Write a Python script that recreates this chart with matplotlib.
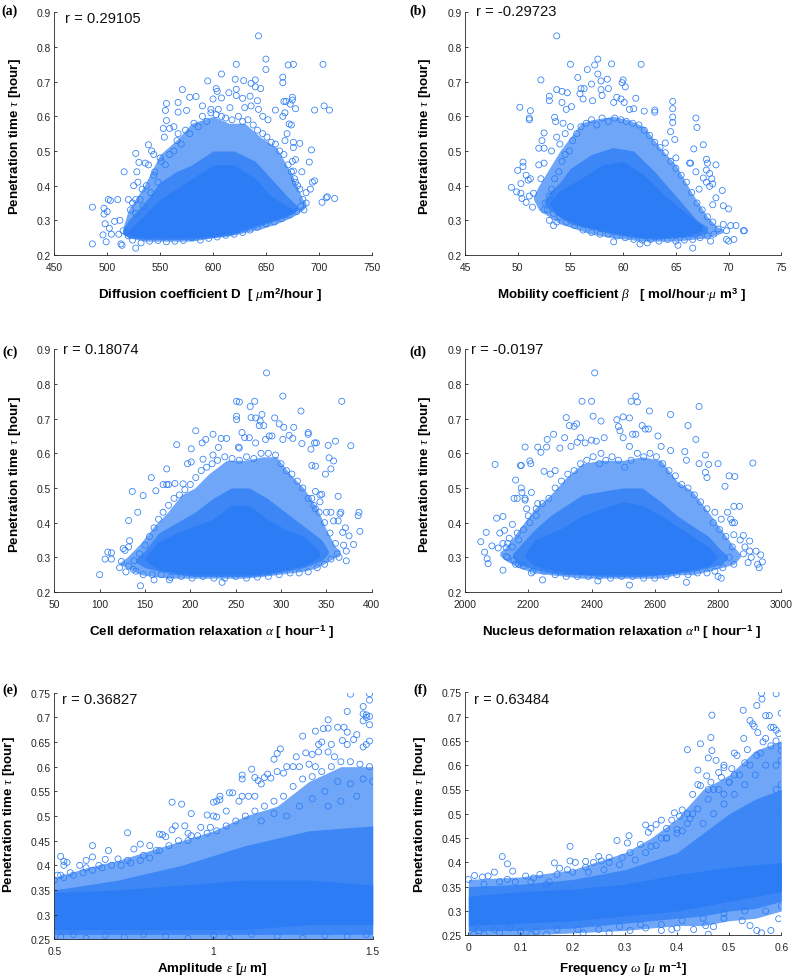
import matplotlib
matplotlib.use('Agg')
import matplotlib.pyplot as plt

plt.rcParams['font.family'] = ['Liberation Sans', 'DejaVu Sans']
plt.rcParams['mathtext.fontset'] = 'custom'
plt.rcParams['mathtext.rm'] = 'Liberation Sans:bold'
plt.rcParams['mathtext.bf'] = 'Liberation Sans:bold'
plt.rcParams['mathtext.it'] = 'Liberation Serif:italic'

# individually readable circles: (x, tau)
a_pts = [(643,.832),(650,.765),(622,.75),(650,.735),(671,.748),(676,.75),(704,.75),(608,.722),(629,.703),(621,.707),(595,.702),(640,.705),(636,.695),(640,.685),(645,.68),(666,.713),(666,.697),(571,.677),(603,.68),(604,.672),(622,.678),(615,.668),(578,.655),(584,.657),(600,.65),(608,.653),(622,.66),(628,.652),(635,.658),(642,.645),(667,.643),(669,.643),(675,.655),(675,.647),(673,.635),(678,.622),(696,.618),(705,.63),(710,.618),(659,.618),(643,.62),(556,.637),(567,.64),(555,.617),(567,.612),(575,.617),(590,.63),(598,.62),(605,.62),(616,.625),(630,.625),(636,.63),(647,.6),(666,.6),(668,.61),(652,.59),(556,.588),(553,.565),(559,.565),(563,.57),(554,.54),(567,.55),(539,.518),(527,.493),(542,.5),(544,.49),(550,.48),(516,.44),(528,.44),(530,.467),(536,.465),(539,.46),(545,.44),(525,.4),(529,.41),(533,.39),(520,.36),(524,.35),(527,.36),(486,.338),(497,.335),(497,.318),(501,.36),(503,.357),(510,.36),(500,.325),(507,.297),(498,.29),(502,.277),(504,.26),(496,.258),(499,.238),(486,.232),(512,.3),(511,.26),(513,.232),(514,.228),(527,.22),(515,.27),(518,.265),(693,.503),(691,.468),(694,.41),(696,.414),(692,.39),(688,.38),(703,.352),(707,.365),(708,.368),(715,.363),(686,.33),(688,.35),(684,.44),(682,.522),(676,.525),(675,.47),(678,.475),(676,.442),(680,.4),(677,.42),(670,.55),(676,.51),(668,.53),(672,.578),(674,.575),
         (522,.33),(527,.32),(531,.36),(534,.34),(537,.4),(541,.38),(544,.43),(548,.41),(551,.47),(555,.46),(559,.49),(563,.5),(566,.53),(570,.52),(574,.56),(578,.55),(582,.58),(586,.57),(590,.6),(594,.585),(598,.61),(603,.605),(608,.6),(612,.595),(618,.59),(624,.6),(628,.585),(633,.59),(638,.575),(642,.56),(647,.55),(651,.54),(655,.525),(659,.52),(663,.5),(667,.49),(671,.46),(674,.44),(678,.41),(682,.39),(685,.36),(683,.34),(679,.325),(672,.315),(665,.305),(658,.295),(650,.29),(642,.28),(635,.272),(628,.265),(620,.26),(612,.257),(604,.252),(596,.248),(588,.243),(580,.25),(572,.242),(564,.24),(556,.238),(548,.242),(540,.24),(532,.235),(524,.243),(520,.255)]
b_pts = [(53.7,.832),(57.6,.765),(57.3,.748),(55,.75),(58.9,.751),(61.7,.75),(56.6,.735),(57.6,.722),(55.7,.712),(60,.705),(59.9,.697),(60.2,.685),(58.5,.707),(52.2,.705),(57.9,.702),(57,.693),(57.9,.677),(58.6,.68),(53.7,.677),(54.2,.672),(54.7,.668),(56,.68),(56.3,.68),(55.9,.665),(56.2,.65),(53,.658),(53,.645),(54.2,.64),(54.6,.62),(50.2,.626),(51.2,.616),(51.1,.595),(51.1,.59),(53.5,.597),(53.6,.585),(55.1,.628),(57.1,.645),(58,.66),(59.4,.655),(59.1,.64),(59.8,.65),(60.1,.64),(61.2,.652),(60.6,.62),(61,.622),(62,.615),(63,.618),(63,.612),(64.7,.643),(64.7,.622),(64.7,.598),(64.7,.582),(66.9,.595),(67,.568),(64.5,.556),(64,.523),(64.9,.533),(65,.48),(66.7,.506),(67.6,.518),(67.9,.476),(68,.465),(66.3,.465),(66.4,.465),(68.8,.46),(66.9,.44),(67.9,.445),(68.2,.435),(68.4,.42),(67.6,.422),(67.9,.41),(68.5,.405),(68.2,.398),(67.2,.39),(69.4,.386),(68.8,.365),(68.5,.345),(69.5,.342),(70,.333),(69.5,.288),(70.2,.285),(70.7,.285),(69.8,.27),(71.4,.27),(71.5,.27),(70.5,.245),(70,.24),(69.8,.245),(68.3,.24),(66.6,.22),(65.2,.228),(61.6,.232),(62.3,.235),(59.1,.238),(52.5,.552),(52.3,.53),(52,.508),(52.5,.508),(52,.46),(52.5,.465),(50.5,.468),(50.5,.455),(50,.444),(51.2,.42),(52.2,.42),(50.8,.43),(51,.416),(50.3,.406),(49.4,.395),(49.9,.382),(50.3,.378),(50.4,.363),(50.8,.352),(51.1,.37),(51.5,.378),(51.4,.338),(52.5,.33),(53,.3),(53.4,.285),(53.7,.295),(53.2,.5),(53.7,.54),(54,.52),(54.3,.58),(54.5,.55),(55,.57),
         (52.6,.35),(53,.37),(53.2,.39),(53.5,.42),(53.9,.44),(54.2,.47),(54.5,.49),(54.9,.5),(55.2,.53),(55.6,.55),(56,.57),(56.5,.58),(57,.59),(57.5,.575),(58,.595),(58.6,.585),(59.2,.595),(59.8,.59),(60.3,.585),(60.9,.58),(61.5,.575),(62,.56),(62.5,.545),(63,.525),(63.5,.51),(64,.495),(64.5,.47),(65,.45),(65.5,.43),(66,.41),(66.5,.38),(67,.35),(67.5,.33),(68,.31),(68.5,.295),(69,.275),(68.6,.26),(68,.255),(67.3,.25),(66.6,.245),(65.8,.243),(65,.24),(64.2,.245),(63.4,.24),(62.6,.245),(61.8,.243),(61,.245),(60.2,.25),(59.4,.255),(58.6,.26),(57.8,.26),(57,.265),(56.2,.272),(55.4,.285),(54.6,.295),(54,.31),(53.4,.32),(52.8,.33)]
c_pts = [(284,.832),(302,.765),(367,.75),(251,.75),(254,.748),(271,.75),(266,.735),(322,.722),(279,.712),(251,.707),(251,.697),(267,.703),(272,.702),(293,.702),(277,.693),(276,.68),(281,.68),(298,.685),(303,.675),(314,.675),(206,.665),(225,.655),(234,.643),(217,.64),(213,.63),(185,.625),(201,.613),(231,.617),(240,.643),(253,.618),(254,.615),(257,.66),(260,.645),(265,.645),(272,.63),(283,.64),(287,.65),(290,.65),(302,.64),(309,.652),(313,.643),(330,.66),(330,.655),(323,.628),(337,.63),(339,.63),(352,.623),(360,.635),(377,.622),(333,.612),(353,.587),(358,.578),(349,.54),(355,.555),(363,.476),(338,.563),(334,.565),(197,.57),(201,.575),(214,.583),(225,.595),(174,.555),(157,.53),(136,.49),(148,.478),(162,.492),(170,.51),(174,.51),(176,.51),(183,.513),(192,.512),(142,.43),(132,.406),(133,.348),(126,.325),(132,.33),(122,.27),(124,.288),(128,.32),(113,.313),(109,.315),(106,.295),(113,.295),(100,.25),(145,.218),(129,.258),(137,.265),(160,.235),(177,.235),(235,.228),(366,.43),(365,.425),(385,.42),(386,.43),(387,.375),(380,.337),(375,.362),(372,.29),(364,.3),(369,.335),(372,.318),(368,.372),(371,.385),(363,.405),(358,.405),(350,.43),(355,.43),(343,.48),(345,.482),(343,.46),(338,.49),(334,.47),(338,.44),
         (138,.29),(144,.31),(150,.335),(155,.36),(160,.385),(165,.41),(170,.43),(176,.45),(182,.47),(188,.48),(194,.495),(200,.51),(206,.53),(212,.55),(218,.56),(224,.57),(230,.58),(238,.59),(246,.585),(254,.58),(262,.59),(270,.585),(278,.6),(286,.6),(294,.595),(300,.57),(306,.55),(312,.54),(318,.52),(324,.5),(330,.47),(336,.45),(342,.43),(348,.4),(354,.37),(360,.34),(362,.31),(355,.295),(348,.28),(340,.27),(330,.258),(320,.255),(310,.255),(298,.25),(286,.245),(274,.243),(262,.24),(250,.245),(238,.24),(226,.24),(214,.245),(202,.24),(190,.245),(178,.242),(168,.25),(158,.25),(148,.25),(140,.26),(132,.275)]
d_pts = [(2410,.832),(2540,.765),(2525,.75),(2545,.748),(2370,.75),(2400,.75),(2740,.735),(2583,.722),(2650,.712),(2405,.707),(2320,.703),(2500,.705),(2520,.702),(2480,.697),(2430,.693),(2485,.677),(2490,.665),(2330,.68),(2345,.678),(2353,.685),(2560,.68),(2610,.65),(2705,.68),(2730,.64),(2280,.655),(2260,.64),(2230,.618),(2258,.618),(2190,.618),(2240,.603),(2300,.615),(2315,.645),(2335,.62),(2365,.645),(2355,.632),(2380,.63),(2400,.638),(2415,.635),(2440,.645),(2500,.645),(2095,.568),(2175,.565),(2178,.565),(2205,.578),(2208,.57),(2250,.548),(2270,.54),(2285,.55),(2430,.6),(2520,.62),(2540,.655),(2530,.655),(2570,.67),(2580,.67),(2620,.62),(2650,.608),(2695,.605),(2700,.58),(2760,.595),(2770,.568),(2800,.57),(2740,.57),(2910,.572),(2822,.505),(2835,.535),(2853,.533),(2760,.545),(2765,.53),(2850,.447),(2868,.447),(2830,.43),(2790,.43),(2845,.4),(2852,.4),(2840,.41),(2810,.41),(2880,.363),(2850,.365),(2870,.35),(2900,.347),(2885,.33),(2920,.318),(2900,.318),(2935,.307),(2905,.3),(2940,.287),(2895,.285),(2925,.28),(2930,.27),(2880,.31),(2850,.28),(2810,.24),(2800,.245),(2700,.228),(2520,.22),(2420,.232),(2245,.235),(2210,.255),(2050,.345),(2062,.315),(2067,.372),(2070,.296),(2073,.282),(2085,.333),(2100,.413),(2105,.327),(2110,.37),(2120,.34),(2120,.418),(2125,.378),(2120,.263),(2130,.302),(2130,.328),(2135,.34),(2140,.355),(2155,.292),(2160,.523),(2155,.47),(2165,.47),(2150,.395),(2165,.37),(2170,.28),(2178,.5),(2180,.487),(2210,.487),(2190,.465),(2190,.47),(2195,.44),(2200,.42),(2230,.455),(2225,.42),
         (2135,.3),(2150,.33),(2170,.35),(2185,.38),(2205,.4),(2225,.44),(2245,.455),(2265,.47),(2285,.5),(2305,.52),(2325,.54),(2345,.55),(2365,.57),(2385,.58),(2405,.59),(2425,.57),(2445,.58),(2465,.59),(2485,.58),(2505,.56),(2525,.58),(2545,.6),(2565,.59),(2585,.6),(2605,.59),(2625,.57),(2645,.55),(2665,.535),(2685,.51),(2705,.5),(2725,.48),(2745,.46),(2765,.44),(2785,.4),(2805,.38),(2825,.36),(2845,.33),(2835,.3),(2815,.27),(2790,.26),(2765,.255),(2735,.255),(2705,.25),(2670,.25),(2635,.245),(2600,.24),(2565,.24),(2530,.245),(2495,.245),(2460,.24),(2425,.245),(2390,.245),(2355,.245),(2320,.245),(2285,.25),(2250,.26),(2215,.26),(2185,.275),(2160,.28)]
e_pts = [(1.43,.747),(1.49,.748),(1.49,.735),(1.47,.722),(1.42,.712),(1.48,.705),(1.47,.707),(1.49,.702),(1.48,.7),(1.47,.693),(1.49,.685),(1.36,.695),(1.32,.672),(1.345,.677),(1.36,.678),(1.39,.68),(1.41,.68),(1.28,.662),(1.45,.665),(1.405,.653),(1.44,.655),(1.49,.652),(1.48,.645),(1.47,.64),(1.42,.67),(1.33,.645),(1.34,.65),(1.37,.645),(1.42,.645),(1.26,.62),(1.29,.628),(1.31,.625),(1.33,.63),(1.36,.63),(1.38,.62),(1.21,.636),(1.2,.627),(1.19,.615),(1.25,.6),(1.23,.6),(1.27,.6),(1.3,.605),(1.32,.6),(1.12,.595),(1.09,.583),(1.09,.575),(1.13,.578),(1.14,.572),(1.16,.578),(1.17,.585),(1.2,.59),(1.18,.577),(1.22,.587),(1.15,.565),(1.05,.547),(1.06,.547),(1.02,.54),(1.0,.528),(1.01,.53),(1.02,.533),(.87,.528),(.9,.524),(1.04,.51),(1.08,.53),(1.11,.54),(1.13,.54),(1.09,.54),(.93,.505),(.98,.502),(1.0,.5),(1.01,.498),(.87,.472),(.88,.48),(.91,.48),(.83,.463),(.84,.462),(.85,.458),(.73,.466),(.96,.477),(.99,.477),(.62,.44),(.54,.406),(.52,.418),(.53,.408),(.53,.4),(.6,.41),(.62,.417),(.67,.43),(.75,.433),(.77,.443),(.8,.44),(.66,.412),(.7,.413),(.92,.465),(.93,.46),(.51,.38),(.52,.38),(.55,.385),(.58,.4),(.6,.395),(.64,.4),(.73,.41),(.78,.42),(.82,.43),
         (.5,.37),(.53,.375),(.56,.38),(.59,.385),(.62,.39),(.65,.395),(.68,.4),(.71,.4),(.74,.405),(.77,.41),(.8,.415),(.83,.43),(.86,.44),(.89,.45),(.92,.45),(.95,.46),(.98,.465),(1.01,.47),(1.04,.48),(1.07,.49),(1.1,.5),(1.13,.51),(1.16,.52),(1.19,.53),(1.22,.54),(1.25,.56),(1.28,.575),(1.31,.58),(1.34,.59),(1.37,.6),(1.4,.61),(1.43,.61),(1.46,.605),(1.49,.6),(1.5,.57),(1.47,.575),(1.43,.565),(1.39,.57),(1.35,.55),(1.31,.535),(1.27,.52),(1.23,.5),(1.19,.505),(1.15,.49),(1.45,.54),(1.4,.53),(1.36,.52),(.52,.255),(.56,.26),(.6,.252),(.66,.258),(.72,.254),(.78,.26),(.85,.256),(.92,.252),(1.0,.258),(1.05,.252),(1.12,.26),(1.2,.256),(1.28,.252),(1.35,.258),(1.42,.256),(1.48,.26)]
f_pts = [(.562,.748),(.59,.747),(.563,.736),(.553,.723),(.527,.713),(.467,.703),(.57,.702),(.577,.702),(.6,.707),(.54,.692),(.545,.685),(.548,.68),(.58,.678),(.585,.678),(.59,.672),(.595,.665),(.555,.667),(.465,.657),(.528,.655),(.57,.655),(.565,.648),(.445,.644),(.42,.632),(.467,.63),(.535,.632),(.59,.65),(.6,.64),(.6,.63),(.51,.625),(.515,.62),(.553,.62),(.46,.615),(.475,.61),(.49,.6),(.49,.595),(.505,.593),(.44,.59),(.457,.578),(.485,.575),(.48,.585),(.51,.58),(.53,.605),(.44,.56),(.445,.558),(.465,.565),(.43,.54),(.46,.55),(.47,.55),(.49,.54),(.5,.565),(.395,.502),(.41,.508),(.405,.495),(.42,.5),(.425,.49),(.43,.5),(.34,.477),(.36,.478),(.37,.487),(.39,.487),(.35,.47),(.345,.462),(.38,.47),(.4,.468),(.41,.465),(.285,.445),(.305,.44),(.308,.455),(.195,.433),(.065,.412),(.075,.397),(.195,.403),(.165,.399),(.205,.4),(.225,.402),(.25,.412),(.27,.41),(.24,.4),(.255,.403),(.27,.4),(.295,.41),(.31,.42),(.33,.437),(.35,.433),(.37,.45),(.38,.45),(.175,.388),(.19,.385),(.225,.39),(.05,.38),(.085,.382),(.012,.373),(.027,.37),(.038,.372),(.11,.372),(.137,.375),(.125,.368),(.075,.365),(.0,.365),(.155,.36),(.46,.252),(.553,.26),(.562,.255),(.58,.26),(.595,.284),(.54,.27),(.525,.28),(.432,.262),(.455,.27),(.47,.268),(.49,.285),(.40,.265),(.39,.262),(.37,.26),(.34,.265),(.31,.26),(.27,.255),(.22,.255),(.15,.252),(.12,.252),(.03,.252),(.06,.255),(.01,.252),(.1,.258),
         (.17,.375),(.2,.38),(.23,.38),(.26,.385),(.29,.395),(.32,.405),(.34,.42),(.36,.435),(.38,.45),(.4,.46),(.42,.48),(.44,.51),(.46,.53),(.48,.55),(.5,.565),(.52,.58),(.54,.6),(.56,.625),(.58,.64),(.6,.61),(.59,.6),(.57,.6),(.55,.58),(.53,.56),(.51,.54),(.49,.52),(.47,.5),(.45,.48),(.6,.56),(.59,.55),(.6,.5),(.03,.355),(.06,.36),(.09,.36),(.12,.36),(.15,.355),(.02,.26),(.05,.262),(.08,.265),(.13,.258),(.17,.262),(.21,.262),(.25,.262),(.29,.268),(.33,.272),(.37,.272),(.41,.28),(.45,.285),(.49,.295),(.53,.3),(.57,.3),(.6,.31)]

# where the circles overlap too much to read one by one: (x, low, high) of the cloud
# outer = loose lace of circles, mid = nearly closed, solid = fully closed
a_outer = [(515,.265,.28),(520,.25,.33),(535,.24,.40),(550,.24,.49),(565,.24,.53),(580,.24,.58),(590,.245,.59),(600,.25,.6),(615,.255,.58),(630,.265,.58),(645,.275,.54),(660,.29,.51),(675,.31,.43),(685,.33,.36),(688,.34,.35)]
a_mid = [(515,.26,.275),(520,.25,.3),(535,.245,.35),(550,.245,.41),(565,.245,.44),(580,.245,.46),(600,.25,.5),(620,.26,.5),(640,.28,.47),(655,.295,.42),(670,.31,.37),(680,.33,.34)]
a_solid = [(520,.26,.27),(530,.25,.30),(550,.25,.36),(575,.25,.41),(600,.255,.46),(620,.265,.46),(640,.285,.42),(655,.3,.37),(670,.315,.34),(678,.325,.33)]
b_outer = [(51.5,.36,.37),(52,.33,.40),(53,.31,.45),(54,.29,.5),(55,.28,.54),(56,.27,.58),(57,.26,.59),(59,.25,.6),(60.5,.245,.59),(62,.24,.57),(63.5,.24,.51),(65,.24,.46),(66.5,.245,.38),(68,.25,.31),(69,.26,.28),(69.5,.265,.275)]
b_mid = [(52.5,.35,.355),(53,.33,.38),(54,.31,.41),(55,.29,.45),(57,.275,.49),(59,.26,.51),(61,.25,.5),(63,.245,.44),(65,.25,.37),(67,.255,.3),(68,.265,.28)]
b_solid = [(53,.345,.35),(54,.31,.385),(56,.285,.42),(58,.27,.46),(60,.26,.47),(62,.25,.43),(64,.25,.37),(66,.255,.32),(67.5,.27,.285)]
c_outer = [(122,.28,.285),(130,.27,.3),(145,.25,.34),(160,.245,.39),(175,.24,.43),(190,.24,.48),(205,.24,.5),(220,.24,.54),(240,.24,.58),(260,.24,.58),(280,.245,.59),(295,.25,.59),(310,.255,.54),(325,.26,.5),(340,.27,.44),(350,.285,.38),(360,.3,.33),(365,.31,.32)]
c_mid = [(140,.285,.295),(150,.27,.32),(165,.26,.37),(185,.25,.4),(205,.245,.43),(225,.245,.47),(245,.245,.5),(265,.245,.5),(285,.25,.47),(305,.26,.43),(325,.27,.39),(345,.29,.35),(352,.31,.32)]
c_solid = [(150,.29,.3),(165,.265,.345),(185,.255,.37),(205,.25,.39),(225,.25,.41),(245,.25,.45),(265,.25,.45),(285,.255,.41),(305,.265,.38),(325,.275,.36),(342,.3,.32)]
d_outer = [(2110,.305,.315),(2130,.29,.33),(2170,.27,.38),(2220,.255,.44),(2270,.25,.48),(2320,.245,.53),(2370,.24,.57),(2430,.24,.58),(2500,.24,.58),(2560,.24,.59),(2620,.24,.58),(2670,.25,.52),(2720,.25,.49),(2770,.26,.43),(2810,.27,.38),(2850,.28,.33),(2870,.3,.31)]
d_mid = [(2150,.3,.31),(2170,.28,.33),(2220,.265,.38),(2270,.255,.42),(2320,.25,.45),(2370,.25,.48),(2430,.245,.49),(2500,.245,.5),(2560,.245,.5),(2620,.25,.46),(2670,.255,.42),(2720,.26,.39),(2770,.27,.36),(2810,.28,.32),(2830,.295,.305)]
d_solid = [(2190,.3,.31),(2220,.275,.35),(2270,.265,.37),(2320,.255,.39),(2370,.25,.42),(2430,.25,.44),(2500,.25,.46),(2560,.25,.45),(2620,.25,.42),(2670,.255,.39),(2720,.265,.36),(2770,.275,.33),(2795,.295,.305)]
e_outer = [(.5,.25,.375),(.6,.25,.395),(.7,.25,.41),(.8,.25,.43),(.9,.25,.45),(1.0,.25,.47),(1.1,.25,.5),(1.2,.25,.52),(1.3,.25,.57),(1.4,.25,.6),(1.5,.25,.6)]
e_mid = [(.5,.26,.35),(.7,.26,.37),(.9,.26,.4),(1.1,.26,.44),(1.3,.26,.47),(1.5,.26,.48)]
e_solid = [(.5,.27,.345),(.7,.27,.35),(.9,.27,.36),(1.1,.27,.37),(1.3,.28,.37),(1.5,.28,.36)]
f_outer = [(0,.25,.365),(.1,.25,.37),(.2,.255,.385),(.3,.26,.42),(.35,.265,.45),(.4,.27,.49),(.45,.27,.55),(.5,.28,.58),(.55,.285,.63),(.6,.3,.65)]
f_mid = [(0,.26,.35),(.1,.26,.355),(.2,.265,.365),(.3,.275,.385),(.4,.285,.42),(.45,.29,.46),(.5,.3,.5),(.55,.305,.53),(.6,.32,.55)]
f_solid = [(0,.27,.33),(.1,.275,.34),(.2,.28,.345),(.3,.29,.355),(.4,.3,.375),(.5,.32,.39),(.6,.34,.4)]

r_labels = ['r = 0.29105', 'r = -0.29723', 'r = 0.18074', 'r = -0.0197', 'r = 0.36827', 'r = 0.63484']
panel_labels = ['(a)', '(b)', '(c)', '(d)', '(e)', '(f)']
x_labels = [r'Diffusion coefficient D  [ $\mu$m$^{\mathrm{2}}$/hour ]',
            r'Mobility coefficient $\beta$   [ mol/hour$\cdot\mu$ m$^{\mathrm{3}}$ ]',
            r'Cell deformation relaxation $\alpha$ [ hour$^{\mathrm{-1}}$ ]',
            r'Nucleus deformation relaxation $\alpha^{\mathrm{n}}$ [ hour$^{\mathrm{-1}}$ ]',
            r'Amplitude $\epsilon$ [$\mu$ m]',
            r'Frequency $\omega$ [$\mu$ m$^{\mathrm{-1}}$]']
y_label = r'Penetration time $\tau$ [hour]'
x_ticks = [[450,500,550,600,650,700,750], [45,50,55,60,65,70,75], [50,100,150,200,250,300,350,400],
           [2000,2200,2400,2600,2800,3000], [.5,1,1.5], [0,.1,.2,.3,.4,.5,.6]]
y_ticks_top = [.2,.3,.4,.5,.6,.7,.8,.9]
y_ticks_low = [.25,.3,.35,.4,.45,.5,.55,.6,.65,.7,.75]

W, H = 793, 978
blue = '#2b7cf5'

fig = plt.figure(figsize=(W/100, H/100), dpi=100)

# left, right, top, bottom in pixels
boxes = [(54.3,371.7,13.3,256), (465,781.3,13.3,256), (54.3,371.7,350.3,593),
         (465,781.3,350.3,593), (54.3,372.7,693.7,940.3), (465,781.3,693.3,936.3)]
xlims = [(450,750), (45,75), (50,400), (2000,3000), (.5,1.5), (-.0064,.6)]
ylims = [(.2,.9)]*4 + [(.25,.75)]*2
ylabel_x = [15, 425, 15, 425, 9, 420]
ylabel_y = [137, 137, 475, 475, 815, 815]
xlabel_x = [210, 622, 212, 622, 212, 623]
xlabel_y = [295, 295, 632, 632, 969, 969]
r_pos = [(65,19), (476,12), (63,350), (471,350), (62,700), (474,700)]
tag_pos = [(1,11), (409,11), (2,352), (409,352), (2,690), (413,690)]

all_pts = [a_pts, b_pts, c_pts, d_pts, e_pts, f_pts]
all_outer = [a_outer, b_outer, c_outer, d_outer, e_outer, f_outer]
all_mid = [a_mid, b_mid, c_mid, d_mid, e_mid, f_mid]
all_solid = [a_solid, b_solid, c_solid, d_solid, e_solid, f_solid]

for i in range(6):
    l, r, t, b = boxes[i]
    ax = fig.add_axes([l/W, 1-b/H, (r-l)/W, (b-t)/H])

    for band, al in [(all_outer[i], 0.68), (all_mid[i], 0.75), (all_solid[i], 1)]:
        xb, lo, hi = zip(*band)
        ax.fill_between(xb, lo, hi, color=blue, alpha=al, lw=0)

    px, py = zip(*all_pts[i])
    ax.scatter(px, py, s=19, facecolors='none', edgecolors=blue, linewidths=0.55)

    ax.set_xlim(xlims[i])
    ax.set_ylim(ylims[i])
    ax.set_xticks(x_ticks[i])
    ax.set_xticklabels([f'{v:g}' for v in x_ticks[i]])
    yt = y_ticks_top if i < 4 else y_ticks_low
    ax.set_yticks(yt)
    ax.set_yticklabels([f'{v:g}' for v in yt])
    ax.tick_params(direction='in', length=2.5, width=0.6, labelsize=7.4,
                   colors='#262626', pad=2.5)
    ax.tick_params(axis='x', pad=5)
    ax.spines['top'].set_visible(False)
    ax.spines['right'].set_visible(False)
    for s in ['left', 'bottom']:
        ax.spines[s].set_linewidth(0.6)
        ax.spines[s].set_color('#262626')

    ax.set_xlabel(x_labels[i], fontsize=9.6, fontweight='bold', va='center')
    ax.xaxis.set_label_coords(xlabel_x[i]/W, 1-xlabel_y[i]/H, transform=fig.transFigure)
    ax.set_ylabel(y_label, fontsize=9.6, fontweight='bold', va='center')
    ax.yaxis.set_label_coords(ylabel_x[i]/W, 1-ylabel_y[i]/H, transform=fig.transFigure)

    fig.text(r_pos[i][0]/W, 1-r_pos[i][1]/H, r_labels[i], fontsize=10.6, va='center', color='#111111')
    fig.text(tag_pos[i][0]/W, 1-tag_pos[i][1]/H, panel_labels[i], fontsize=10, va='center',
             fontweight='bold', family='Liberation Serif')

fig.savefig('out.png', dpi=100)
